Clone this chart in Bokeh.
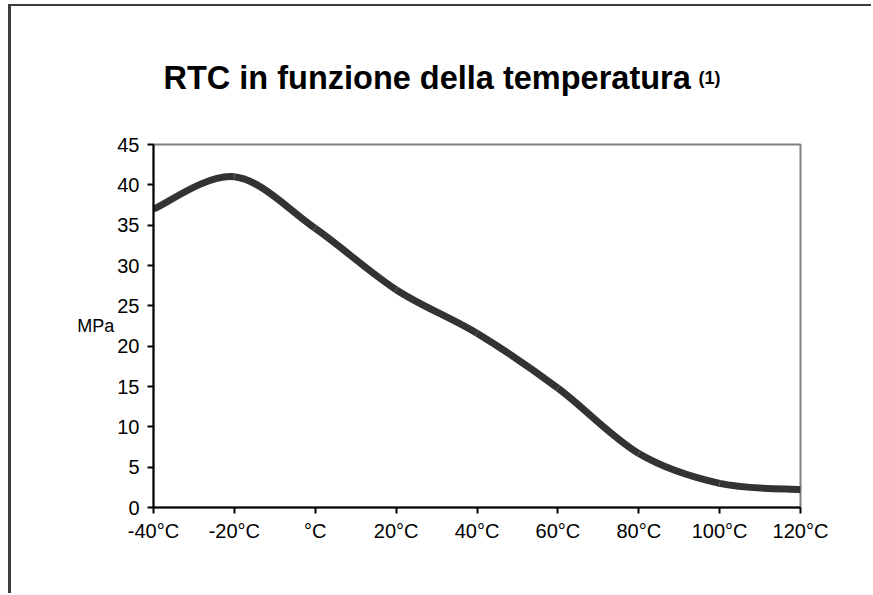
from bokeh.plotting import figure
from bokeh.layouts import column
from bokeh.models import FixedTicker, ColumnDataSource, Range1d
from bokeh.core.properties import value
from bokeh.embed import file_html
from bokeh.resources import INLINE

# ---- data ----
temps = [-40, -20, 0, 20, 40, 60, 80, 100, 120]
temp_labels = ["-40°C", "-20°C", "°C", "20°C", "40°C", "60°C", "80°C", "100°C", "120°C"]
rtc_mpa = [37.0, 41.0, 34.6, 27.0, 21.6, 14.8, 6.7, 3.0, 2.2]
y_ticks = [0, 5, 10, 15, 20, 25, 30, 35, 40, 45]
title_main = "RTC in funzione della temperatura"
title_note = "(1)"
y_label = "MPa"

FONT = "Liberation Sans"
W = 860          # canvas width
TITLE_H = 100    # height of the title strip
PLOT_H = 487
BL, BR = 142, 71  # left / right borders (same for both figures so frames line up)
FRAME_W = W - BL - BR

# ---- title strip: frame coordinates in px from the frame's top-left ----
tf = figure(width=W, height=TITLE_H, x_range=Range1d(0, FRAME_W), y_range=Range1d(TITLE_H, 0),
            output_backend="svg", toolbar_location=None,
            x_axis_location=None, y_axis_location=None,
            min_border_left=BL, min_border_right=BR, min_border_top=0, min_border_bottom=0)
tf.grid.visible = False
tf.outline_line_color = None
tf.text(x=[10], y=[71], text=[title_main], text_font=value(FONT), text_font_style="bold",
        text_font_size="32.5px", text_baseline="alphabetic", text_align="left", text_color="black")
tf.text(x=[545], y=[71], text=[title_note], text_font=value(FONT), text_font_style="bold",
        text_font_size="18px", text_baseline="alphabetic", text_align="left", text_color="black")

# smooth line (Excel-like) drawn as bezier segments through the data points
n = len(temps)
x0, y0, x1, y1, cx0, cy0, cx1, cy1 = ([] for _ in range(8))
for i in range(n - 1):
    ip = max(i - 1, 0)
    i2 = min(i + 2, n - 1)
    x0.append(temps[i]); y0.append(rtc_mpa[i])
    x1.append(temps[i + 1]); y1.append(rtc_mpa[i + 1])
    cx0.append(temps[i] + (temps[i + 1] - temps[ip]) / 6.0)
    cy0.append(rtc_mpa[i] + (rtc_mpa[i + 1] - rtc_mpa[ip]) / 6.0)
    cx1.append(temps[i + 1] - (temps[i2] - temps[i]) / 6.0)
    cy1.append(rtc_mpa[i + 1] - (rtc_mpa[i2] - rtc_mpa[i]) / 6.0)
src = ColumnDataSource(dict(x0=x0, y0=y0, x1=x1, y1=y1, cx0=cx0, cy0=cy0, cx1=cx1, cy1=cy1))

p = figure(width=W, height=PLOT_H,
           x_range=Range1d(temps[0], temps[-1]), y_range=Range1d(y_ticks[0], y_ticks[-1]),
           output_backend="svg", toolbar_location=None,
           min_border_left=BL, min_border_right=BR, min_border_top=38, min_border_bottom=86)

p.bezier(x0="x0", y0="y0", x1="x1", y1="y1", cx0="cx0", cy0="cy0", cx1="cx1", cy1="cy1",
         source=src, line_color="#333333", line_width=7)

p.xgrid.visible = False
p.ygrid.visible = False
p.outline_line_color = "#808080"
p.outline_line_width = 2

for ax in (p.xaxis[0], p.yaxis[0]):
    ax.axis_line_color = "black"
    ax.axis_line_width = 2
    ax.major_tick_line_color = "black"
    ax.major_tick_line_width = 2
    ax.major_tick_out = 6
    ax.major_tick_in = 0
    ax.minor_tick_line_color = None
    ax.major_label_text_font = FONT
    ax.major_label_text_font_size = "20px"
    ax.major_label_text_color = "black"

p.xaxis.ticker = FixedTicker(ticks=temps)
p.xaxis.major_label_overrides = {t: l for t, l in zip(temps, temp_labels)}
p.xaxis.major_label_standoff = 6
p.yaxis.ticker = FixedTicker(ticks=y_ticks)
p.yaxis.major_label_standoff = 8

p.yaxis.axis_label = y_label
p.yaxis.axis_label_orientation = "horizontal"
p.yaxis.axis_label_text_font = FONT
p.yaxis.axis_label_text_font_style = "normal"
p.yaxis.axis_label_text_font_size = "18px"
p.yaxis.axis_label_text_color = "black"
p.yaxis.axis_label_standoff = 0

layout = column(tf, p, spacing=0)
layout.styles = {"margin-left": "8px", "margin-top": "4px",
                 "border-left": "3px solid #3c3c3c", "border-top": "2px solid #3c3c3c"}

open("out.html", "w").write(file_html(layout, INLINE))
